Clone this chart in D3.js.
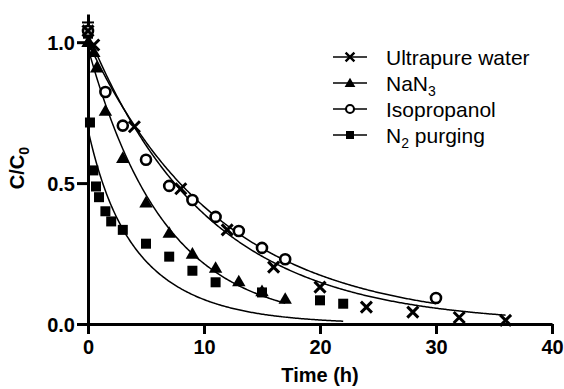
<!DOCTYPE html>
<html>
<head>
<meta charset="utf-8">
<script src="https://cdn.jsdelivr.net/npm/d3@7"></script>
<style>
body { margin: 0; background: #fff; }
svg text { font-family: "Liberation Sans", Arial, sans-serif; fill: #000; }
</style>
</head>
<body>
<div id="plot"></div>
<script>
// data
var ultraT = [0, 0.5, 4, 8, 12, 16, 20, 24, 28, 32, 36];
var ultraC = [1.04, 0.99, 0.70, 0.48, 0.334, 0.202, 0.131, 0.06, 0.042, 0.023, 0.013];
var isoT = [0, 1.5, 3, 5, 7, 9, 11, 13, 15, 17, 30];
var isoC = [1.04, 0.823, 0.704, 0.583, 0.49, 0.44, 0.38, 0.33, 0.27, 0.23, 0.092];
var nanT = [0, 0.5, 0.75, 1.5, 3, 5, 7, 9, 11, 13, 15, 17];
var nanC = [1.0, 0.965, 0.91, 0.756, 0.589, 0.431, 0.323, 0.249, 0.199, 0.151, 0.116, 0.089];
var n2T = [0, 0.17, 0.46, 0.69, 0.95, 1.5, 2, 3, 5, 7, 9, 11, 15, 20, 22];
var n2C = [1.03, 0.715, 0.545, 0.488, 0.45, 0.40, 0.364, 0.334, 0.285, 0.239, 0.189, 0.148, 0.112, 0.084, 0.072];

// error bar seen at t = 0 (ultrapure water)
var errT = [0];
var errC = [1.04];
var errSD = [0.03];

// fitted decay curves: C = a1*exp(-k1 t) + a2*exp(-k2 t), drawn up to tEnd
var fitA1 = [1.03, 1.0, 0.98, 0.17];
var fitK1 = [0.097, 0.0876, 0.152, 0.54];
var fitA2 = [0, 0, 0, 0.52];
var fitK2 = [0, 0, 0, 0.18];
var fitEnd = [36, 30, 17, 22];

var seriesNames = ['Ultrapure water', 'NaN3', 'Isopropanol', 'N2 purging'];
var xTicks = [0, 10, 20, 30, 40];
var yTicks = [0, 0.5, 1.0];

var W = 564, H = 389;
var margin = {left: 88, right: 12, top: 14, bottom: 65};

var svg = d3.select('#plot')
    .append('svg')
    .attr('width', W)
    .attr('height', H);

var x = d3.scaleLinear().domain([0, 40]).range([margin.left, W - margin.right]);
var y = d3.scaleLinear().domain([0, 1.1]).range([H - margin.bottom, margin.top]);

// fitted lines
var line = d3.line().x(function(d){ return x(d[0]); }).y(function(d){ return y(d[1]); });
for (var i = 0; i < 4; i++) {
    var pts = d3.range(0, fitEnd[i] + 0.001, 0.1).map(function(t){
        return [t, fitA1[i]*Math.exp(-fitK1[i]*t) + fitA2[i]*Math.exp(-fitK2[i]*t)];
    });
    svg.append('path')
        .attr('d', line(pts))
        .style('fill', 'none')
        .style('stroke', '#000')
        .style('stroke-width', '1.5px');
}

// axes
var xAxis = svg.append('g')
    .attr('transform', 'translate(0,' + y(0) + ')')
    .call(d3.axisBottom(x).tickValues(xTicks).tickSize(10).tickSizeOuter(0).tickPadding(6).tickFormat(d3.format('d')));
var yAxis = svg.append('g')
    .attr('transform', 'translate(' + x(0) + ',0)')
    .call(d3.axisLeft(y).tickValues(yTicks).tickSize(11).tickSizeOuter(0).tickPadding(2).tickFormat(d3.format('.1f')));

[xAxis, yAxis].forEach(function(a){
    a.select('.domain').style('stroke', '#000').style('stroke-width', '3px');
    a.selectAll('.tick line').style('stroke', '#000').style('stroke-width', '3px');
    a.selectAll('.tick text')
        .style('font-family', '"Liberation Sans", Arial, sans-serif')
        .style('font-size', '20px')
        .style('font-weight', 'bold')
        .style('fill', '#000');
});
yAxis.selectAll('.tick text').attr('dy', '0.36em');

// error bars
errT.forEach(function(t, j){
    svg.append('line')
        .attr('x1', x(t)).attr('x2', x(t))
        .attr('y1', y(errC[j])).attr('y2', y(errC[j] + errSD[j]))
        .style('stroke', '#000').style('stroke-width', '2px');
    svg.append('line')
        .attr('x1', x(t) - 6).attr('x2', x(t) + 6)
        .attr('y1', y(errC[j] + errSD[j])).attr('y2', y(errC[j] + errSD[j]))
        .style('stroke', '#000').style('stroke-width', '2px');
});

// marker drawing helpers
function drawMarker(g, kind, cx, cy, s) {
    if (kind === 'x') {
        var h = 5.5 * s;
        g.append('path')
            .attr('d', 'M' + (cx-h) + ',' + (cy-h) + 'L' + (cx+h) + ',' + (cy+h) + 'M' + (cx-h) + ',' + (cy+h) + 'L' + (cx+h) + ',' + (cy-h))
            .style('stroke', '#000').style('stroke-width', 3 * s + 'px').style('fill', 'none');
    } else if (kind === 'o') {
        g.append('circle')
            .attr('cx', cx).attr('cy', cy).attr('r', 5 * s)
            .style('fill', '#fff').style('stroke', '#000').style('stroke-width', 2.6 * s + 'px');
    } else if (kind === 't') {
        g.append('path')
            .attr('d', d3.symbol(d3.symbolTriangle, 78 * s * s)())
            .attr('transform', 'translate(' + cx + ',' + (cy + 1) + ')')
            .style('fill', '#000');
    } else {
        g.append('rect')
            .attr('x', cx - 5 * s).attr('y', cy - 5 * s)
            .attr('width', 10 * s).attr('height', 10 * s)
            .style('fill', '#000');
    }
}

var pointSets = [
    {t: n2T, c: n2C, kind: 's'},
    {t: nanT, c: nanC, kind: 't'},
    {t: isoT, c: isoC, kind: 'o'},
    {t: ultraT, c: ultraC, kind: 'x'}
];
var marks = svg.append('g');
pointSets.forEach(function(p){
    p.t.forEach(function(t, j){
        drawMarker(marks, p.kind, x(t), y(p.c[j]), 1);
    });
});

// axis titles
svg.append('text')
    .attr('x', (x(0) + x(40)) / 2)
    .attr('y', 382)
    .attr('text-anchor', 'middle')
    .style('font-size', '20px')
    .style('font-weight', 'bold')
    .text('Time (h)');

var yl = svg.append('text')
    .attr('transform', 'translate(24,168) rotate(-90)')
    .attr('text-anchor', 'middle')
    .style('font-size', '20px')
    .style('font-weight', 'bold');
yl.append('tspan').text('C/C');
yl.append('tspan').attr('dy', '5').style('font-size', '14px').text('0');

// legend
var legKinds = ['x', 't', 'o', 's'];
var leg = svg.append('g');
seriesNames.forEach(function(name, i){
    var ly = 57 + i * 26;
    leg.append('line')
        .attr('x1', 333).attr('x2', 367).attr('y1', ly).attr('y2', ly)
        .style('stroke', '#000').style('stroke-width', '1.5px');
    drawMarker(leg, legKinds[i], 350, ly, 0.8);
    var tx = leg.append('text')
        .attr('x', 386).attr('y', ly).attr('dy', '0.36em')
        .style('font-size', '21px');
    if (name === 'NaN3') {
        tx.append('tspan').text('NaN');
        tx.append('tspan').attr('dy', '5').style('font-size', '14px').text('3');
    } else if (name === 'N2 purging') {
        tx.append('tspan').text('N');
        tx.append('tspan').attr('dy', '5').style('font-size', '14px').text('2');
        tx.append('tspan').attr('dy', '-5').text(' purging');
    } else {
        tx.text(name);
    }
});
</script>
</body>
</html>
